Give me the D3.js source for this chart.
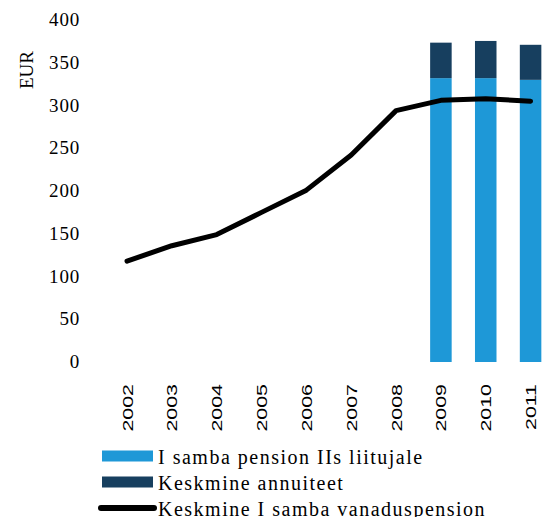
<!DOCTYPE html>
<html>
<head>
<meta charset="utf-8">
<script src="https://cdn.jsdelivr.net/npm/d3@7"></script>
<style>
  body { margin: 0; background: #fff; }
  svg { display: block; }
</style>
</head>
<body>
<div id="chart"></div>
<script>
// andmed
const years = ["2002", "2003", "2004", "2005", "2006", "2007", "2008", "2009", "2010", "2011"];
const barYears = ["2009", "2010", "2011"];
const pensionII = [332, 332, 330];
const annuity = [41.5, 43.5, 41];
const oldAgePension = [118, 136, 149, 175, 201, 242, 294, 306, 308, 305];
const yTicks = [0, 50, 100, 150, 200, 250, 300, 350, 400];
const legendLabels = ["I samba pension IIs liitujale", "Keskmine annuiteet", "Keskmine I samba vanaduspension"];

const width = 554, height = 517;
const lightBlue = "#1e98d7", darkBlue = "#173f5f";

const svg = d3.select("#chart").append("svg")
  .attr("width", width)
  .attr("height", height);

// skaalad
const x = d3.scaleBand()
  .domain(years)
  .range([104.6, 553])
  .paddingInner(0.52)
  .paddingOuter(0.26);

const y = d3.scaleLinear()
  .domain([0, 400])
  .range([362, 20]);

// y telg
const yAxis = d3.axisLeft(y).tickValues(yTicks).tickSize(0).tickPadding(0);
svg.append("g")
  .attr("transform", "translate(80,0)")
  .call(yAxis)
  .call(g => g.select(".domain").remove())
  .call(g => g.selectAll("text")
    .attr("font-family", "'Liberation Serif', serif")
    .attr("font-size", 19)
    .attr("letter-spacing", 0.8)
    .attr("fill", "#000")
    .attr("dy", "0.3em"));

svg.append("text")
  .attr("transform", "translate(33,70) rotate(-90)")
  .attr("text-anchor", "middle")
  .attr("font-family", "'Liberation Serif', serif")
  .attr("font-size", 19)
  .text("EUR");

// x telg
const xAxis = d3.axisBottom(x).tickSize(0).tickPadding(0);
svg.append("g")
  .attr("transform", "translate(0,384)")
  .call(xAxis)
  .call(g => g.select(".domain").remove())
  .call(g => g.selectAll("text")
    .attr("font-family", "'Liberation Sans', Arial, sans-serif")
    .attr("font-size", 15.5)
    .attr("fill", "#000")
    .attr("text-anchor", "end")
    .attr("y", 0)
    .attr("dy", 0)
    .attr("transform", "rotate(-90) scale(1.38,1) translate(0,5.5)"));

// tulbad
const bars = barYears.map((yr, i) => ({ year: yr, base: pensionII[i], top: annuity[i] }));

svg.selectAll(".bar-base")
  .data(bars)
  .enter().append("rect")
  .attr("class", "bar-base")
  .attr("x", d => x(d.year))
  .attr("width", x.bandwidth())
  .attr("y", d => y(d.base))
  .attr("height", d => y(0) - y(d.base))
  .attr("fill", lightBlue);

svg.selectAll(".bar-top")
  .data(bars)
  .enter().append("rect")
  .attr("class", "bar-top")
  .attr("x", d => x(d.year))
  .attr("width", x.bandwidth())
  .attr("y", d => y(d.base + d.top))
  .attr("height", d => y(d.base) - y(d.base + d.top))
  .attr("fill", darkBlue);

// joon
const line = d3.line()
  .x((d, i) => x(years[i]) + x.bandwidth() / 2)
  .y(d => y(d));

svg.append("path")
  .datum(oldAgePension)
  .attr("d", line)
  .attr("fill", "none")
  .attr("stroke", "#000")
  .attr("stroke-width", 5)
  .attr("stroke-linecap", "round")
  .attr("stroke-linejoin", "round");

// legend
const legend = svg.append("g").attr("font-family", "'Liberation Serif', serif").attr("font-size", 20);
const rowY = [456, 482, 508];

legend.append("rect").attr("x", 102).attr("y", rowY[0] - 5.5).attr("width", 51).attr("height", 11).attr("fill", lightBlue);
legend.append("rect").attr("x", 102).attr("y", rowY[1] - 5.5).attr("width", 51).attr("height", 11).attr("fill", darkBlue);
legend.append("line").attr("x1", 101).attr("x2", 154).attr("y1", rowY[2]).attr("y2", rowY[2])
  .attr("stroke", "#000").attr("stroke-width", 6).attr("stroke-linecap", "round");

legend.selectAll("text")
  .data(legendLabels)
  .enter().append("text")
  .attr("x", 158)
  .attr("y", (d, i) => rowY[i] + 7.5)
  .attr("letter-spacing", 1.5)
  .text(d => d);
</script>
</body>
</html>
